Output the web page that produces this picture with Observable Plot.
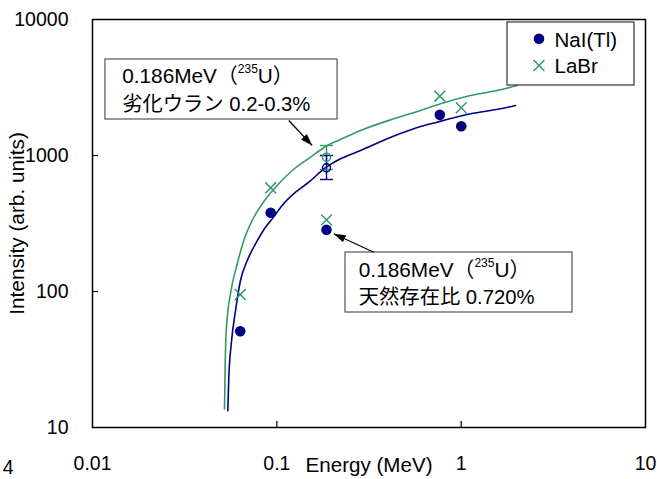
<!DOCTYPE html>
<html>
<head>
<meta charset="utf-8">
<script src="https://cdn.jsdelivr.net/npm/d3@7"></script>
<script src="https://cdn.jsdelivr.net/npm/@observablehq/plot@0.6"></script>
<style>
  body { margin: 0; background: #fff; }
</style>
</head>
<body>
<div id="chart"></div>
<script>
// Gamma-line energies (MeV) measured with each detector
const peakEnergy = [0.0633, 0.0926, 0.186, 0.766, 1.001];
const peakNaI = [51, 379, 284, 1990, 1642];
const peakLaBr = [95, 579, 336, 2730, 2244];

// Depleted uranium, 0.186 MeV line: value, lower and upper error limits
const duEnergy = 0.186;
const duNaI = [812, 666, 1000];
const duLaBr = [972, 789, 1185];

// Fitted response curves
const curveNaIEnergy = [0.0542, 0.0549, 0.0566, 0.0597, 0.0635, 0.0691, 0.0766, 0.0868, 0.0944, 0.1069, 0.1263, 0.1491, 0.1814, 0.2215, 0.2844, 0.397, 0.553, 0.741, 1.124, 1.635, 1.971];
const curveNaIIntensity = [13.3, 23.4, 41.3, 72.5, 120.5, 169, 224, 297, 342, 429, 537, 636, 803, 946, 1088, 1327, 1571, 1758, 2026, 2205, 2332];
const curveLaBrEnergy = [0.0520, 0.0525, 0.0533, 0.0561, 0.0610, 0.0662, 0.0735, 0.0833, 0.0984, 0.1212, 0.1523, 0.1814, 0.2215, 0.2844, 0.431, 0.602, 0.772, 1.124, 1.635, 2.014];
const curveLaBrIntensity = [13.7, 31.1, 54.6, 96.7, 160, 237, 333, 441, 585, 776, 972, 1151, 1311, 1527, 1862, 2142, 2400, 2761, 3041, 3272];

// Axis ticks
const xTicks = [0.01, 0.1, 1, 10];
const yTicks = [10, 100, 1000, 10000];

// Series names
const seriesNames = ["NaI(Tl)", "LaBr"];

// Annotation texts
const noteTitle = "0.186MeV（235U）";
const noteLines = ["劣化ウラン 0.2-0.3%", "天然存在比 0.720%"];

// ---- tables built from the arrays above ----
const nai = peakEnergy.map((x, i) => ({x, y: peakNaI[i]}));
const labr = peakEnergy.map((x, i) => ({x, y: peakLaBr[i]}));
const curveNaI = curveNaIEnergy.map((x, i) => ({x, y: curveNaIIntensity[i]}));
const curveLaBr = curveLaBrEnergy.map((x, i) => ({x, y: curveLaBrIntensity[i]}));
const du = [
  {x: duEnergy, y: duLaBr[0], lo: duLaBr[1], hi: duLaBr[2], c: "LaBr"},
  {x: duEnergy, y: duNaI[0], lo: duNaI[1], hi: duNaI[2], c: "NaI"}
];

const navy = "#000080";
const green = "#339966";
const fontFamily = "'Liberation Sans', Arial, 'Noto Sans CJK JP', sans-serif";
const colorOf = d => d.c === "NaI" ? navy : green;

// Annotation boxes, text anchors and arrows, placed in (energy, intensity) space
const notes = [
  {x1: 0.01175, x2: 0.2135, y1: 1840, y2: 5080, tx: 0.01449, ty1: 3401, ty2: 2107,
   ax1: 0.1161, ay1: 1808, ax2: 0.1555, ay2: 1185, line: noteLines[0]},
  {x1: 0.2358, x2: 4.018, y1: 70.07, y2: 193.6, tx: 0.2784, ty1: 127.4, ty2: 81.2,
   ax1: 0.3358, ay1: 194.5, ax2: 0.2037, ay2: 265.7, line: noteLines[1]}
];

// Legend placement
const legend = {x1: 1.784, x2: 8.715, y1: 3272, y2: 9505, sx: 2.644, tx: 3.209,
  rows: [{sy: 7211, ty: 6256}, {sy: 4591, ty: 4028}]};

// Short horizontal cap used for the error bars
const capSymbol = {draw(context) { context.moveTo(-6.5, 0); context.lineTo(6.5, 0); }};

const chart = Plot.plot({
  width: 657,
  height: 479,
  marginLeft: 92,
  marginRight: 12,
  marginTop: 19,
  marginBottom: 52,
  style: {fontFamily, fontSize: "19.5px", background: "white", color: "black", overflow: "visible"},
  x: {type: "log", domain: [0.01, 10]},
  y: {type: "log", domain: [10, 10000]},
  marks: [
    Plot.axisX({ticks: xTicks, tickSize: 0, tickPadding: 29, tickFormat: d => String(d), label: null}),
    Plot.axisY({ticks: yTicks, tickSize: 0, tickPadding: 24, tickFormat: d => String(d), label: null}),
    // inward tick marks
    Plot.ruleX([0.1, 1], {insetTop: 402, stroke: "black", strokeWidth: 1.2}),
    Plot.ruleY([100, 1000], {insetRight: 547, stroke: "black", strokeWidth: 1.2}),
    // axis titles
    Plot.text(["Energy (MeV)"], {frameAnchor: "bottom", dy: 38, textAnchor: "middle", lineAnchor: "middle", fontSize: 20.6}),
    Plot.text(["Intensity (arb. units)"], {frameAnchor: "left", dx: -75, rotate: -90, textAnchor: "middle", lineAnchor: "middle", fontSize: 20.8}),
    Plot.text(["4"], {frameAnchor: "bottom-left", dx: -79, dy: 40, textAnchor: "end", lineAnchor: "middle", fontSize: 19.5}),
    // response curves
    Plot.line(curveLaBr, {x: "x", y: "y", stroke: green, strokeWidth: 1.6, curve: "monotone-x"}),
    Plot.line(curveNaI, {x: "x", y: "y", stroke: navy, strokeWidth: 1.6, curve: "monotone-x"}),
    // depleted uranium values with error bars
    Plot.ruleX(du, {x: "x", y1: "lo", y2: "hi", stroke: colorOf, strokeWidth: 1.4}),
    Plot.dot(du, {x: "x", y: "lo", symbol: capSymbol, stroke: colorOf, strokeWidth: 1.4, fill: "none"}),
    Plot.dot(du, {x: "x", y: "hi", symbol: capSymbol, stroke: colorOf, strokeWidth: 1.4, fill: "none"}),
    Plot.dot(du, {x: "x", y: "y", r: 4, stroke: colorOf, strokeWidth: 1.5, fill: "none"}),
    // measured peaks
    Plot.dot(labr, {x: "x", y: "y", symbol: "times", r: 5, stroke: green, strokeWidth: 1.5}),
    Plot.dot(nai, {x: "x", y: "y", r: 5.3, fill: navy, stroke: "none"}),
    // annotations
    Plot.rect(notes, {x1: "x1", x2: "x2", y1: "y1", y2: "y2", fill: "white", stroke: "#555", strokeWidth: 1.2}),
    Plot.text(notes, {x: "tx", y: "ty1", text: () => noteTitle, textAnchor: "start", lineAnchor: "bottom", fontSize: 20.8}),
    Plot.text(notes, {x: "tx", y: "ty2", text: "line", textAnchor: "start", lineAnchor: "bottom", fontSize: 20.3}),
    Plot.link(notes, {x1: "ax1", y1: "ay1", x2: "ax2", y2: "ay2", stroke: "black", strokeWidth: 1.2}),
    // legend
    Plot.rect([legend], {x1: "x1", x2: "x2", y1: "y1", y2: "y2", fill: "white", stroke: "#333", strokeWidth: 1.2}),
    Plot.dot([legend], {x: "sx", y: d => d.rows[0].sy, r: 5.3, fill: navy, stroke: "none"}),
    Plot.dot([legend], {x: "sx", y: d => d.rows[1].sy, symbol: "times", r: 5, stroke: green, strokeWidth: 1.5}),
    Plot.text(legend.rows, {x: () => legend.tx, y: "ty", text: (d, i) => seriesNames[i], textAnchor: "start", lineAnchor: "bottom", fontSize: 20.5}),
    Plot.frame({stroke: "black", strokeWidth: 1.5})
  ]
});

// Filled arrowheads for the annotation pointers, and the superscript mass number
const svg = d3.select(chart);
svg.append("defs").append("marker")
  .attr("id", "arrowhead")
  .attr("viewBox", "0 0 12 8")
  .attr("refX", 12).attr("refY", 4)
  .attr("markerWidth", 12).attr("markerHeight", 8)
  .attr("markerUnits", "userSpaceOnUse")
  .attr("orient", "auto")
  .append("path").attr("d", "M0,0L12,4L0,8Z").attr("fill", "black");
svg.selectAll('g[aria-label="link"] path').attr("marker-end", "url(#arrowhead)");

svg.selectAll("text").filter(function() { return this.textContent === noteTitle; }).each(function() {
  const t = d3.select(this);
  t.text(null);
  t.append("tspan").text("0.186MeV（");
  t.append("tspan").attr("dy", -10).attr("font-size", 12).text("235");
  t.append("tspan").attr("dy", 10).text("U）");
});

document.getElementById("chart").append(chart);
</script>
</body>
</html>
